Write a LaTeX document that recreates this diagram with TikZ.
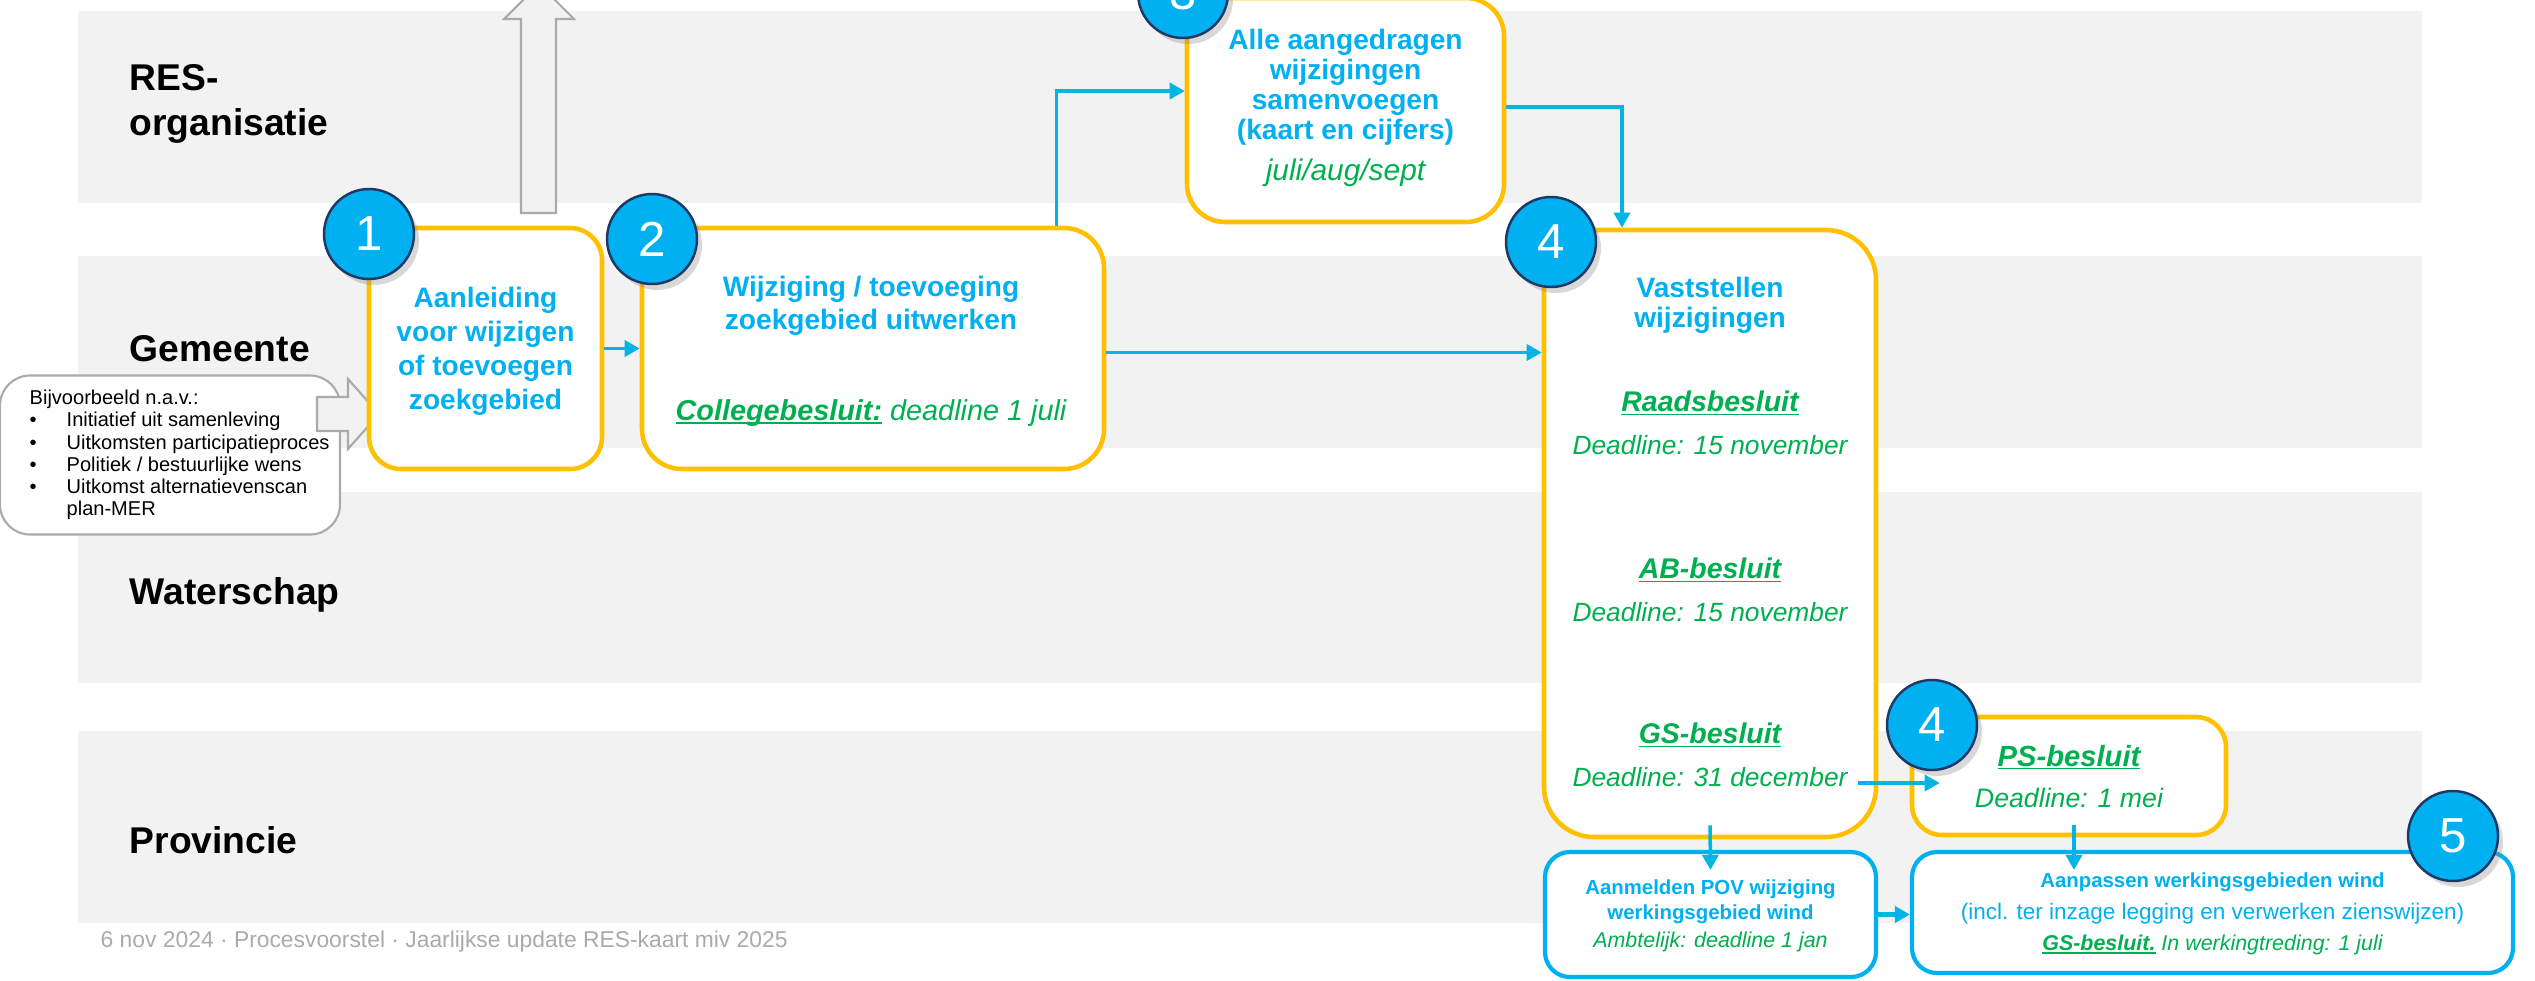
\documentclass[tikz,border=0pt]{standalone}
\usepackage{fontspec}
\setmainfont{Liberation Sans}
\usetikzlibrary{shadows,arrows.meta}

\definecolor{resyellow}{RGB}{255,192,0}
\definecolor{rescyan}{RGB}{0,176,240}
\definecolor{resgreen}{RGB}{0,176,80}
\definecolor{resnavy}{RGB}{32,56,100}
\definecolor{lanegray}{RGB}{242,242,242}
\definecolor{linegray}{RGB}{170,170,170}
\definecolor{wireblue}{RGB}{0,180,228}

% underline at a fixed depth
\newcommand{\ulw}[1]{\setbox0\hbox{#1}\rlap{\rule[-0.9pt]{\wd0}{0.35pt}}\box0}

\begin{document}
\begin{tikzpicture}
	[x=0.1mm,y=-0.1mm,
	lane/.style = {
		fill=lanegray
	},
	lanelabel/.style = {
		anchor=west, inner sep=0, align=left,
		font=\bfseries\fontsize{10.6}{12.8}\selectfont
	},
	ybox/.style = {
		draw=resyellow, line width=1.3pt, fill=white, inner sep=0,
		rounded corners=4mm
	},
	bbox/.style = {
		draw=rescyan, line width=1.2pt, fill=white, inner sep=0,
		rounded corners=2.5mm
	},
	callout/.style = {
		draw=linegray, line width=0.6pt, fill=white, rounded corners=3mm,
		minimum width=34mm, minimum height=15.9mm, inner sep=0
	},
	calltext/.style = {
		anchor=west, inner sep=0, align=left,
		font=\fontsize{5.7}{6.35}\selectfont
	},
	greyarrow/.style = {
		draw=linegray, line width=0.6pt, fill=lanegray
	},
	num/.style = {
		circle, draw=resnavy, line width=0.7pt, fill=rescyan, text=white,
		minimum size=9mm, inner sep=0, font=\fontsize{14}{14}\selectfont,
		drop shadow={shadow xshift=0.5mm, shadow yshift=-0.6mm, opacity=0.3}
	},
	ttl/.style = {
		text=rescyan, align=center, inner sep=0,
		font=\bfseries\fontsize{8}{#1}\selectfont
	},
	ttl/.default=9.4,
	besl/.style = {
		text=resgreen, inner sep=0,
		font=\bfseries\itshape\fontsize{8.1}{9}\selectfont
	},
	dline/.style = {
		text=resgreen, inner sep=0,
		font=\itshape\fontsize{7.5}{9}\selectfont
	},
	sttl/.style = {
		text=rescyan, align=center, inner sep=0,
		font=\bfseries\fontsize{5.8}{7.1}\selectfont
	},
	snote/.style = {
		text=rescyan, inner sep=0,
		font=\fontsize{6.4}{7.1}\selectfont
	},
	sdline/.style = {
		text=resgreen, inner sep=0,
		font=\itshape\fontsize{6.1}{7.1}\selectfont
	},
	wire/.style = {
		draw=wireblue, line width=1pt,
		-{Triangle[length=1.5mm,width=1.6mm]}
	}]

	\useasboundingbox (0,0) rectangle (2535,980);

	%Draw lanes
	\fill[lane] (78,11) rectangle (2422,203);
	\fill[lane] (78,256) rectangle (2422,448);
	\fill[lane] (78,492) rectangle (2422,683);
	\fill[lane] (78,731) rectangle (2422,923);

	\node[lanelabel] (res) at (129,104) {RES-\\organisatie};
	\node[lanelabel] (gem) at (129,349) {Gemeente};
	\node[lanelabel] (ws) at (129,595) {Waterschap};
	\node[lanelabel] (prov) at (129,840) {Provincie};

	\node[anchor=west, inner sep=0, text=linegray, font=\fontsize{6.5}{7}\selectfont] (foot) at (100,942)
		{6 nov 2024 · Procesvoorstel · Jaarlijkse update RES-kaart miv 2025};

	%Draw callout and grey arrows
	\node[callout] (ex) at (170,455) {};
	\node[calltext] (extext) at (29,455) {Bijvoorbeeld n.a.v.:\\
		\makebox[3.7mm][l]{\textbullet}Initiatief uit samenleving\\
		\makebox[3.7mm][l]{\textbullet}Uitkomsten participatieproces\\
		\makebox[3.7mm][l]{\textbullet}Politiek / bestuurlijke wens\\
		\makebox[3.7mm][l]{\textbullet}Uitkomst alternatievenscan\\
		\hspace*{3.7mm}plan-MER};

	\draw[greyarrow] (317,397) -- (348,397) -- (348,379) -- (379,414) -- (348,449) -- (348,431) -- (317,431) -- cycle;
	\draw[greyarrow] (521,213) -- (521,19) -- (504,19) -- (539,-16) -- (574,19) -- (556,19) -- (556,213) -- cycle;

	%Draw boxes
	\node[ybox, rounded corners=3.2mm, minimum width=23.3mm, minimum height=24.1mm] at (485.5,348.5) (b1) {};
	\node[ybox, minimum width=46.2mm, minimum height=24.1mm] at (873,348.5) (b2) {};
	\node[ybox, rounded corners=3.8mm, minimum width=31.7mm, minimum height=22.4mm] at (1345.5,110) (b3) {};
	\node[ybox, rounded corners=5mm, minimum width=33.2mm, minimum height=60.7mm] at (1710,533.5) (b4) {};
	\node[ybox, rounded corners=3mm, minimum width=31.4mm, minimum height=11.8mm] at (2069,776) (ps) {};
	\node[bbox, minimum width=33.1mm, minimum height=12.5mm] at (1710.5,914.5) (pov) {};
	\node[bbox, minimum width=60.1mm, minimum height=12.1mm] at (2212.5,912.5) (aanp) {};

	%Draw texts
	\node[ttl=9.7] at (485.5,351) (t1) {Aanleiding\\voor wijzigen\\of toevoegen\\zoekgebied};

	\node[ttl] at (871,306) (t2) {Wijziging / toevoeging\\zoekgebied uitwerken};
	\node[dline, font=\itshape\fontsize{8.2}{9}\selectfont] at (871,413) (cb)
		{{\bfseries\ulw{Collegebesluit:}} deadline 1 juli};

	\node[ttl=8.5] at (1345.5,87) (t3) {Alle aangedragen\\wijzigingen\\samenvoegen\\(kaart en cijfers)};
	\node[dline, font=\itshape\fontsize{8.5}{9}\selectfont] at (1345.5,173) (per) {juli/aug/sept};

	\node[ttl=8.5] at (1710,305) (t4) {Vaststellen\\wijzigingen};
	\node[besl] at (1710,403) (rb) {\ulw{Raadsbesluit}};
	\node[dline] at (1710,445) (rbdl) {Deadline: 15 november};
	\node[besl] at (1710,570) (ab) {\ulw{AB-besluit}};
	\node[dline] at (1710,612) (abdl) {Deadline: 15 november};
	\node[besl] at (1710,735) (gs) {\ulw{GS-besluit}};
	\node[dline] at (1710,777) (gsdl) {Deadline: 31 december};

	\node[besl, font=\bfseries\itshape\fontsize{8.3}{9}\selectfont] at (2069,757) (psb) {\ulw{PS-besluit}};
	\node[dline, font=\itshape\fontsize{7.6}{9}\selectfont] at (2069,798) (psdl) {Deadline: 1 mei};

	\node[sttl] at (1710.5,902) (t5) {Aanmelden POV wijziging\\werkingsgebied wind};
	\node[sdline] at (1710.5,942) (povdl) {Ambtelijk: deadline 1 jan};

	\node[sttl] at (2212.5,882) (t6) {Aanpassen werkingsgebieden wind};
	\node[snote] at (2212.5,914) (incl) {(incl. ter inzage legging en verwerken zienswijzen)};
	\node[sdline] at (2212.5,945) (aanpdl) {{\bfseries\ulw{GS-besluit.}} In werkingtreding: 1 juli};

	%Draw wires
	\draw[wire] (b1.east) -- (b2.west);
	\draw[wire] ([yshift=-0.4mm]b2.east) -- ([yshift=-0.4mm]b2.east -| b4.west);
	\draw[wire] ([xshift=-5mm]b2.north east) |- ([yshift=1.9mm]b3.west);
	\draw[wire] ([yshift=0.3mm]b3.east) -| ([xshift=-8.8mm]b4.north);
	\draw[wire] ([shift={(1mm,-0.6mm)}]gsdl.east) -- ([shift={(3mm,-0.6mm)}]gsdl.east -| ps.west);
	\draw[wire] ([yshift=1.4mm]b4.south) -- ([yshift=-2mm]pov.north);
	\draw[wire] ([xshift=0.5mm,yshift=1.2mm]ps.south) -- ([xshift=0.5mm,yshift=-2mm]ps.south |- aanp.north);
	\draw[wire, line width=1.4pt] (pov.east) -- (pov.east -| aanp.west);

	%Draw step numbers
	\node[num] at (369,234) (n1) {1};
	\node[num] at (652,239) (n2) {2};
	\node[num] at (1183,-7) (n3) {3};
	\node[num] at (1551,242) (n4) {4};
	\node[num] at (1932,725) (n4b) {4};
	\node[num] at (2453,836) (n5) {5};

\end{tikzpicture}
\end{document}
